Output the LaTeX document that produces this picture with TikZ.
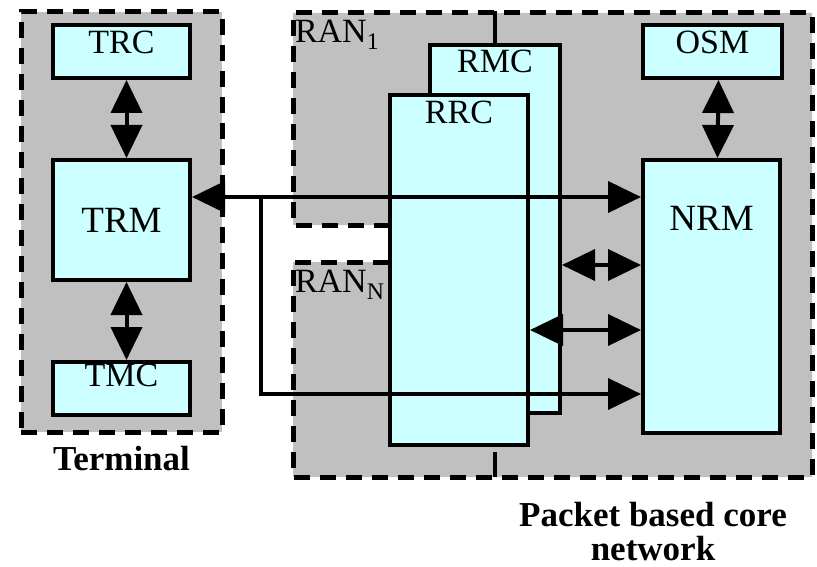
\documentclass[tikz,border=0pt]{standalone}
\usepackage{fontspec}
\setmainfont{Liberation Serif}
\usetikzlibrary{arrows.meta,positioning}
\definecolor{regiongray}{HTML}{C0C0C0}
\definecolor{boxcyan}{HTML}{CCFFFF}
\tikzset{
  region/.style={draw, line width=5pt, dash pattern=on 16pt off 10pt, fill=regiongray},
  blk/.style={draw, line width=4pt, fill=boxcyan, inner sep=0pt},
  lbl/.style={inner sep=0pt, outer sep=0pt, font=\fontsize{34}{36}\selectfont},
  biglbl/.style={lbl, font=\fontsize{37}{40}\selectfont},
  caption/.style={inner sep=0pt, align=center, font=\fontsize{35}{34}\selectfont\bfseries},
  link/.style={line width=4pt, {Triangle[length=33pt,width=31pt]}-{Triangle[length=33pt,width=31pt]}},
  tolink/.style={line width=4pt, -{Triangle[length=33pt,width=31pt]}},
  plain/.style={line width=4pt}
}
\begin{document}
\begin{tikzpicture}[x=1pt, y=-1pt]
  \useasboundingbox (0,0) rectangle (817,567);

  % terminal side
  \node[region, minimum width=201pt, minimum height=420pt] (term) at (121.5,222) {};
  \node[caption, below=12pt of term] (termT) {Terminal};

  % RAN 1 / RAN N and core network
  \fill[regiongray] (390,225) -- (293,225) -- (293,13) -- (812,13) -- (812,477)
    -- (293,477) -- (293,262) -- (390,262) -- cycle;
  \draw[region, fill=none] (390,225) -- (293,225) -- (293,13) -- (812,13) -- (812,477)
    -- (293,477) -- (293,262) -- (390,262);
  \node[lbl, anchor=north west] (ran1) at (295,20) {RAN\textsubscript{1}};
  \node[lbl, anchor=north west] (ranN) at (295,270) {RAN\textsubscript{N}};
  \node[caption, anchor=north] (coreT) at (653,502) {Packet based core\\ network};

  % blocks
  \node[blk, minimum width=137pt, minimum height=53pt] (TRC) at (121.5,51.5) {};
  \node[blk, minimum width=137pt, minimum height=120pt, font=\fontsize{37}{40}\selectfont] (TRM) at (121.5,220) {TRM};
  \node[blk, minimum width=137pt, minimum height=53pt] (TMC) at (121.5,388.5) {};
  \node[blk, minimum width=139pt, minimum height=53pt] (OSM) at (712.5,51.5) {};
  \node[blk, minimum width=137pt, minimum height=273pt] (NRM) at (711.5,296.5) {};
  \node[blk, minimum width=130pt, minimum height=368pt] (RMC) at (495,229) {};
  \node[blk, minimum width=138pt, minimum height=350pt] (RRC) at (459,270) {};

  \node[lbl, below=8pt of TRC.north] (trcT) {TRC};
  \node[lbl, below=4pt of TMC.north] (tmcT) {TMC};
  \node[lbl, below=8pt of OSM.north] (osmT) {OSM};
  \node[lbl, below=7pt of RMC.north] (rmcT) {RMC};
  \node[lbl, below=8pt of RRC.north] (rrcT) {RRC};
  \node[biglbl, below=48pt of NRM.north] (nrmT) {NRM};

  % ticks between RAN and core
  \draw[plain] (RMC.north) -- ++(0,-32);
  \draw[plain] (RMC.south |- 0,452) -- ++(0,25);

  % connectors
  \draw[link] ([xshift=5pt]TRC.south) -- ([xshift=5pt]TRM.north);
  \draw[link] ([xshift=5pt]TMC.north) -- ([xshift=5pt]TRM.south);
  \draw[link] ([xshift=6pt]OSM.south) -- ([xshift=6pt]NRM.north);

  \coordinate (split) at (261,197);
  \draw[link] ([yshift=23pt]TRM.east) -- (NRM.west |- split);
  \draw[tolink] (split) |- (NRM.west |- 0,394);
  \draw[link] (RMC.east |- 0,265) -- (NRM.west |- 0,265);
  \draw[link] (RRC.east |- 0,330) -- (NRM.west |- 0,330);
\end{tikzpicture}
\end{document}
